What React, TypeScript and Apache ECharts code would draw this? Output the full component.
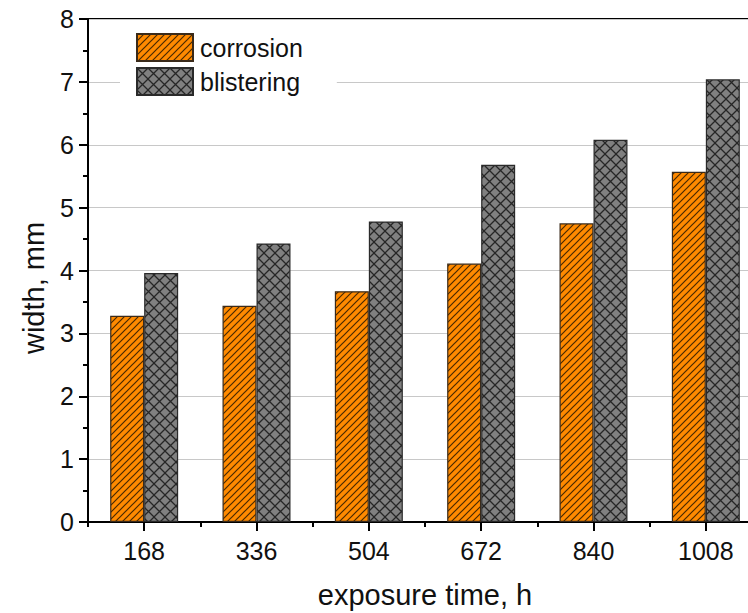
import React, { useEffect, useRef } from "react";
import * as echarts from "echarts";

const categories = ["168", "336", "504", "672", "840", "1008"];
const corrosion = [3.28, 3.44, 3.67, 4.11, 4.75, 5.57];
const blistering = [3.96, 4.43, 4.78, 5.68, 6.08, 7.04];
const yTicks = [0, 1, 2, 3, 4, 5, 6, 7, 8];

function makeStripe(): HTMLCanvasElement {
  const s = 7;
  const c = document.createElement("canvas");
  c.width = s;
  c.height = s;
  const ctx = c.getContext("2d")!;
  ctx.fillStyle = "#ff8a00";
  ctx.fillRect(0, 0, s, s);
  ctx.strokeStyle = "#4a2a00";
  ctx.lineWidth = 1.2;
  ctx.beginPath();
  ctx.moveTo(-1, s + 1);
  ctx.lineTo(s + 1, -1);
  ctx.moveTo(-2, 2);
  ctx.lineTo(2, -2);
  ctx.moveTo(s - 2, s + 2);
  ctx.lineTo(s + 2, s - 2);
  ctx.stroke();
  return c;
}

function makeCross(): HTMLCanvasElement {
  const s = 11;
  const c = document.createElement("canvas");
  c.width = s;
  c.height = s;
  const ctx = c.getContext("2d")!;
  ctx.fillStyle = "#808080";
  ctx.fillRect(0, 0, s, s);
  ctx.strokeStyle = "#262626";
  ctx.lineWidth = 1.3;
  ctx.beginPath();
  ctx.moveTo(-1, -1);
  ctx.lineTo(s + 1, s + 1);
  ctx.moveTo(-1, s + 1);
  ctx.lineTo(s + 1, -1);
  ctx.stroke();
  return c;
}

export default function App() {
  const ref = useRef<HTMLDivElement>(null);
  useEffect(() => {
    if (!ref.current) return;
    const chart = echarts.init(ref.current, null, { renderer: "svg" });
    const font = "'Liberation Sans', Arial, sans-serif";
    const stripe = { image: makeStripe(), repeat: "repeat" };
    const cross = { image: makeCross(), repeat: "repeat" };
    chart.setOption({
      animation: false,
      backgroundColor: "#fff",
      textStyle: { fontFamily: font },
      grid: {
        left: 88,
        top: 19,
        width: 674,
        height: 503,
        outerBoundsMode: "none",
        containLabel: false,
        show: true,
        borderColor: "#000",
        borderWidth: 2,
        backgroundColor: "transparent",
      },
      legend: {
        orient: "vertical",
        left: 120,
        top: 25,
        padding: [8, 34, 8, 16],
        itemWidth: 56,
        itemHeight: 27,
        itemGap: 5,
        icon: "rect",
        backgroundColor: "#fff",
        textStyle: { fontFamily: font, fontSize: 25, color: "#111", padding: [0, 0, 0, 2] },
        data: ["corrosion", "blistering"],
      },
      xAxis: [
        {
          type: "category",
          data: categories,
          axisLine: { show: true, lineStyle: { color: "#000", width: 2 } },
          axisTick: { show: true, alignWithLabel: true, length: 9, lineStyle: { color: "#000", width: 2 } },
          axisLabel: { fontFamily: font, fontSize: 25, color: "#111", margin: 16 },
          splitLine: { show: false },
        },
        {
          type: "category",
          data: categories,
          position: "bottom",
          axisLine: { show: false },
          axisTick: { show: true, alignWithLabel: false, length: 5, lineStyle: { color: "#000", width: 2 } },
          axisLabel: { show: false },
          splitLine: { show: false },
        },
      ],
      yAxis: {
        type: "value",
        min: yTicks[0],
        max: yTicks[yTicks.length - 1],
        interval: 1,
        axisLine: { show: true, lineStyle: { color: "#000", width: 2 } },
        axisTick: { show: true, length: 9, lineStyle: { color: "#000", width: 2 } },
        minorTick: { show: true, splitNumber: 2, length: 5, lineStyle: { color: "#000", width: 2 } },
        axisLabel: { fontFamily: font, fontSize: 25, color: "#111", margin: 14 },
        splitLine: { show: true, lineStyle: { color: "#c8c8c8", width: 1.2 } },
      },
      graphic: [
        {
          type: "text",
          x: 425,
          y: 595,
          style: {
            text: "exposure time, h",
            fontFamily: font,
            fontSize: 29,
            fill: "#111",
            align: "center",
            verticalAlign: "middle",
          },
        },
        {
          type: "text",
          x: 34,
          y: 288,
          rotation: Math.PI / 2,
          style: {
            text: "width, mm",
            fontFamily: font,
            fontSize: 29,
            fill: "#111",
            align: "center",
            verticalAlign: "middle",
          },
        },
      ],
      series: [
        {
          name: "corrosion",
          type: "bar",
          data: corrosion,
          barWidth: 34,
          barGap: "0%",
          itemStyle: { color: stripe, borderColor: "#3a2a1a", borderWidth: 1.2 },
        },
        {
          name: "blistering",
          type: "bar",
          data: blistering,
          barWidth: 34,
          barGap: "0%",
          itemStyle: { color: cross, borderColor: "#2a2a2a", borderWidth: 1.2 },
        },
      ],
    });
    return () => chart.dispose();
  }, []);
  return (
    <div
      ref={ref}
      style={{ position: "fixed", left: 0, top: 0, width: 748, height: 613 }}
    />
  );
}
